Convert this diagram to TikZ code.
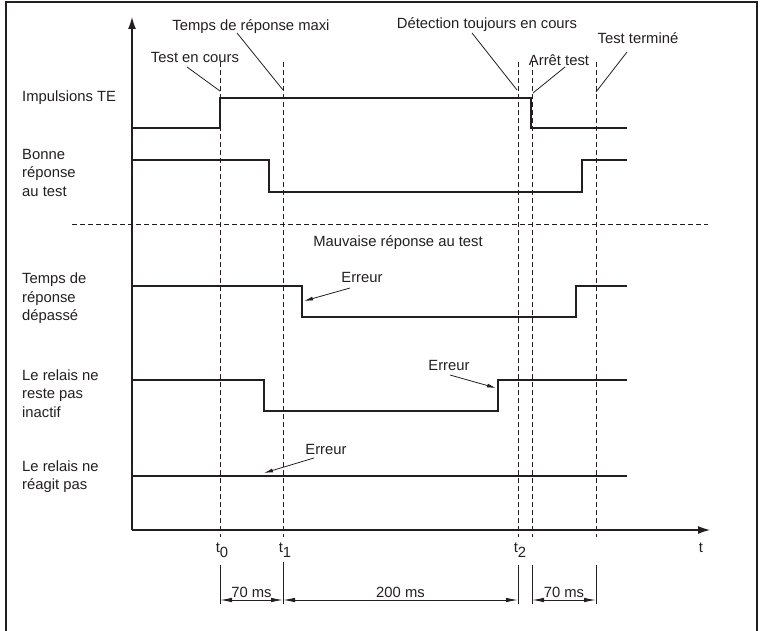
\documentclass[tikz,border=0pt]{standalone}
\usepackage{fontspec}
\setmainfont{Liberation Sans}
\usetikzlibrary{arrows.meta}
\definecolor{ink}{HTML}{231F20}
\begin{document}
\begin{tikzpicture}[x=1pt,y=-1pt,
  lbl/.style={font=\fontsize{14.8}{18.5}\selectfont, inner sep=0pt, text=ink},
  leftlbl/.style={lbl, anchor=west, align=left},
  sig/.style={line width=2.3pt, draw=ink, line join=miter},
  gridline/.style={line width=0.8pt, draw=ink, dash pattern=on 5pt off 3pt},
  leader/.style={line width=0.8pt, draw=ink},
  err/.style={line width=0.8pt, draw=ink, -{Latex[length=9pt,width=4pt]}},
  dimline/.style={line width=0.9pt, draw=ink, {Latex[length=12pt,width=4.5pt]}-{Latex[length=12pt,width=4.5pt]}},
  extline/.style={line width=1pt, draw=ink},
  axis/.style={line width=1.2pt, draw=ink, -{Latex[length=12pt,width=8pt]}},
]
\useasboundingbox (0,0) rectangle (763,631);
\draw[line width=1.2pt, draw=ink] (6,2) rectangle (757,633);

% axes
\coordinate (O) at (132,530);
\coordinate (Ytop) at (132,17);
\coordinate (Xend) at (710,530);
\draw[axis] (O) -- (Ytop);
\draw[axis] (O) -- (Xend);

% dashed time markers
\foreach \n/\x in {a/220,b/283,c/518,d/532,e/596}{
  \coordinate (top\n) at (\x,62);
  \coordinate (bot\n) at (\x,537);
  \draw[gridline] (top\n) -- (bot\n);
}
% separator
\coordinate (sepL) at (72,224);
\coordinate (sepR) at (708,224);
\draw[gridline] (sepL) -- (sepR);

% signals
\draw[sig] (132,128) -- (220,128) -- (220,98) -- (531,98) -- (531,128) -- (627,128);
\draw[sig] (132,160) -- (269,160) -- (269,192) -- (582,192) -- (582,160) -- (627,160);
\draw[sig] (132,286) -- (302,286) -- (302,317) -- (576,317) -- (576,286) -- (627,286);
\draw[sig] (132,380) -- (264,380) -- (264,411) -- (498,411) -- (498,380) -- (627,380);
\draw[sig] (132,476) -- (627,476);

% left labels
\node[leftlbl] (l1) at (22,98) {Impulsions TE};
\node[leftlbl] (l2) at (22,172.5) {Bonne\\réponse\\au test};
\node[leftlbl] (l3) at (22,298.5) {Temps de\\réponse\\dépassé};
\node[leftlbl] (l4) at (22,393.5) {Le relais ne\\reste pas\\inactif};
\node[leftlbl] (l5) at (22,476.5) {Le relais ne\\réagit pas};

% top labels with leaders
\node[lbl] (tec) at (195,57) {Test en cours};
\node[lbl] (trm) at (251,27) {Temps de réponse maxi};
\node[lbl] (dtc) at (487,25) {Détection toujours en cours};
\node[lbl] (art) at (559,60) {Arrêt test};
\node[lbl] (tte) at (638,38) {Test terminé};
\coordinate (tecS) at (187,67); \coordinate (tecE) at (220,91);
\coordinate (trmS) at (237,33); \coordinate (trmE) at (283,90);
\coordinate (dtcS) at (472,33); \coordinate (dtcE) at (517,90);
\coordinate (artS) at (565,67); \coordinate (artE) at (533,93);
\coordinate (tteS) at (627,52); \coordinate (tteE) at (596,92);
\draw[leader] (tecS) -- (tecE);
\draw[leader] (trmS) -- (trmE);
\draw[leader] (dtcS) -- (dtcE);
\draw[leader] (artS) -- (artE);
\draw[leader] (tteS) -- (tteE);

\node[lbl] (mrt) at (398,243) {Mauvaise réponse au test};

% Erreur labels
\node[lbl] (e1) at (362,277) {Erreur};
\node[lbl] (e2) at (449,365) {Erreur};
\node[lbl] (e3) at (326,449) {Erreur};
\coordinate (e1S) at (350,288); \coordinate (e1E) at (304,301);
\coordinate (e2S) at (450,375); \coordinate (e2E) at (496,388);
\coordinate (e3S) at (314,458); \coordinate (e3E) at (264,473);
\draw[err] (e1S) -- (e1E);
\draw[err] (e2S) -- (e2E);
\draw[err] (e3S) -- (e3E);

% tick labels
\node[lbl, anchor=base] (t0) at (222,552) {t\raisebox{-5pt}{0}};
\node[lbl, anchor=base] (t1) at (285,552) {t\raisebox{-5pt}{1}};
\node[lbl, anchor=base] (t2) at (520,552) {t\raisebox{-5pt}{2}};
\node[lbl, anchor=base] (tt) at (701,552) {t};

% dimensions
\foreach \n/\x/\y in {a/220/565,b/283/562,c/518/565,d/532/565,e/596/565}{
  \coordinate (xs\n) at (\x,\y);
  \coordinate (xe\n) at (\x,604);
  \coordinate (dm\n) at (\x,600);
  \draw[extline] (xs\n) -- (xe\n);
}
\draw[dimline] (dma) -- (dmb);
\draw[dimline] (dmb) -- (dmc);
\draw[dimline] (dmd) -- (dme);
\node[lbl, anchor=base] (d1) at (251.5,597) {70 ms};
\node[lbl, anchor=base] (d2) at (400.5,597) {200 ms};
\node[lbl, anchor=base] (d3) at (564,597) {70 ms};
\end{tikzpicture}
\end{document}
